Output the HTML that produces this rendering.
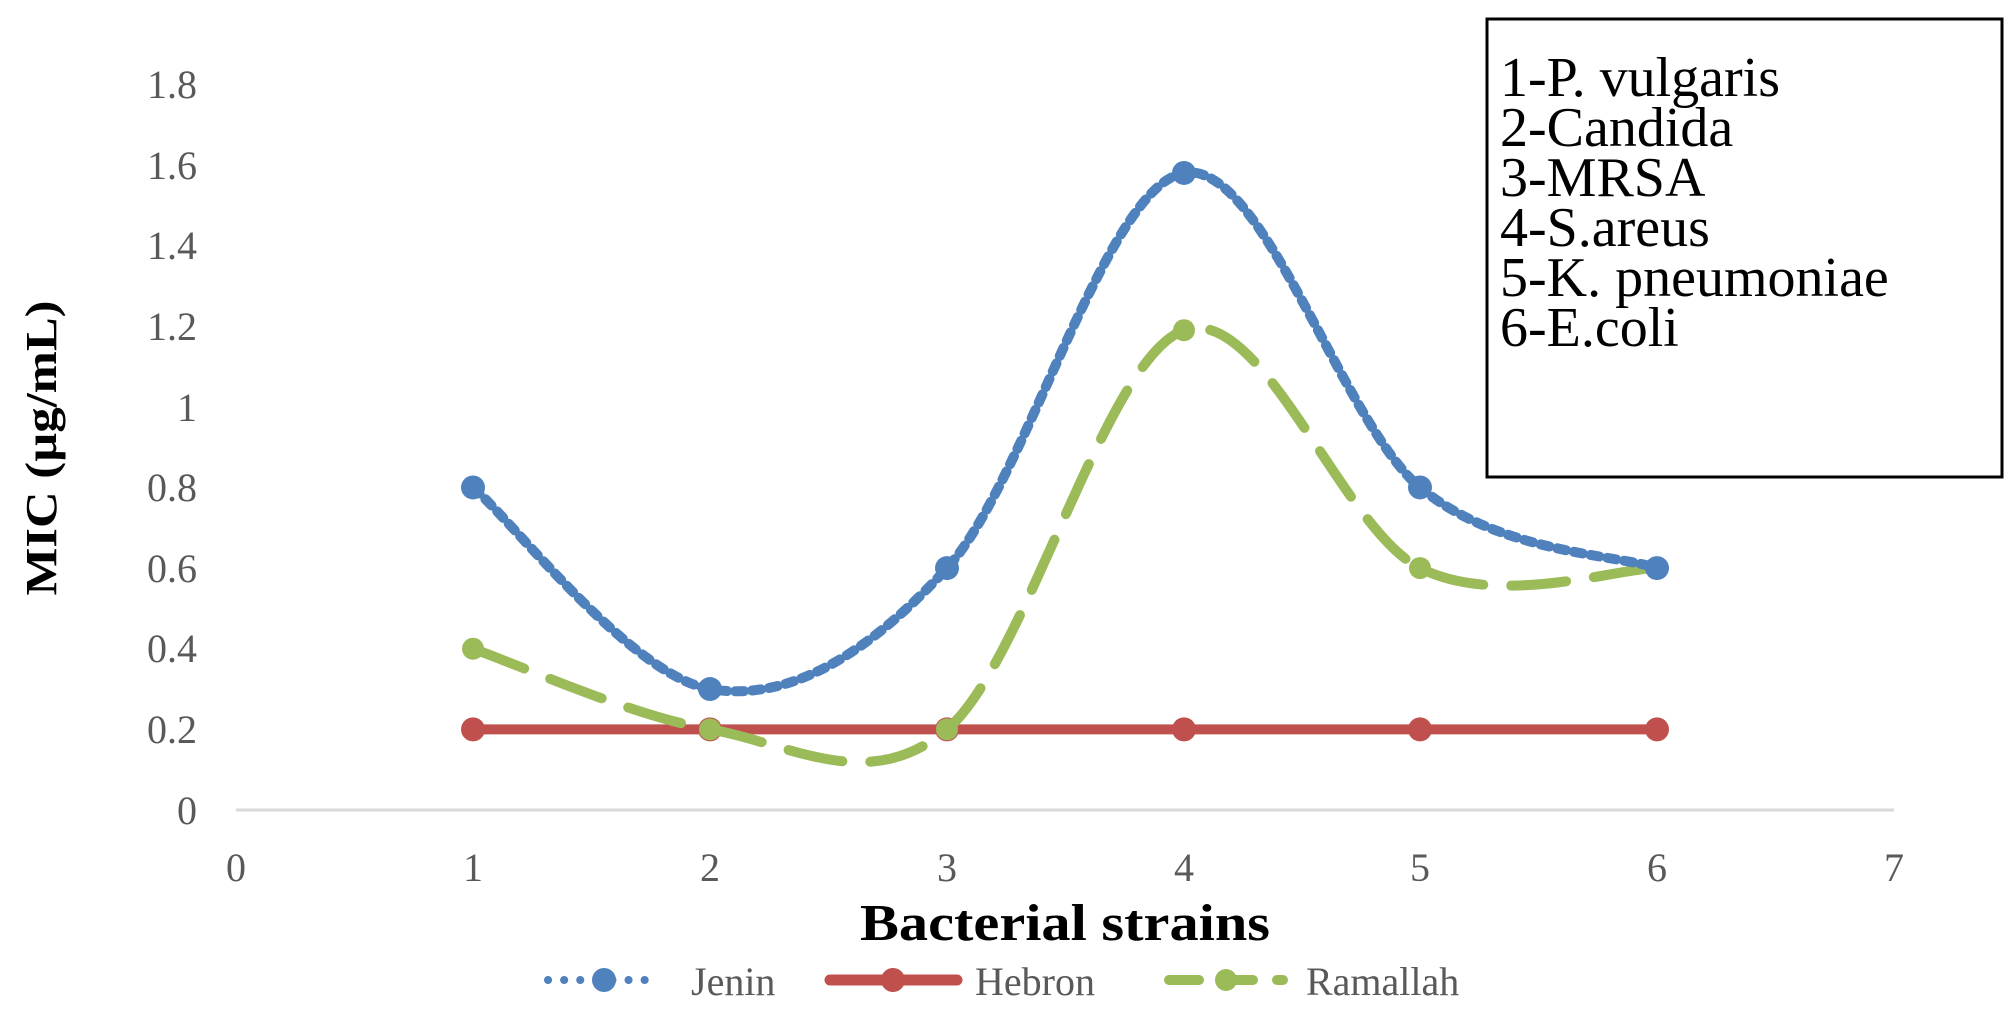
<!DOCTYPE html>
<html><head><meta charset="utf-8"><style>
html,body{margin:0;padding:0;background:#fff;}
svg{display:block;}
.t{font-family:"Liberation Serif",serif;fill:#595959;font-size:40px;}
</style></head><body>
<svg id="s" width="2008" height="1009" viewBox="0 0 2008 1009" xmlns="http://www.w3.org/2000/svg">
<line x1="236" y1="810" x2="1894" y2="810" stroke="#d9d9d9" stroke-width="3"/>
<g class="t" text-anchor="end">
<text x="197" y="824">0</text>
<text x="197" y="743">0.2</text>
<text x="197" y="662">0.4</text>
<text x="197" y="582">0.6</text>
<text x="197" y="501">0.8</text>
<text x="197" y="421">1</text>
<text x="197" y="340">1.2</text>
<text x="197" y="259">1.4</text>
<text x="197" y="179">1.6</text>
<text x="197" y="98">1.8</text>
</g>
<g class="t" text-anchor="middle">
<text x="236" y="881">0</text>
<text x="473" y="881">1</text>
<text x="710" y="881">2</text>
<text x="947" y="881">3</text>
<text x="1184" y="881">4</text>
<text x="1420" y="881">5</text>
<text x="1657" y="881">6</text>
<text x="1894" y="881">7</text>
</g>
<text transform="translate(56,448) rotate(-90)" text-anchor="middle" font-family="Liberation Serif,serif" font-weight="bold" font-size="44" fill="#000" textLength="295" lengthAdjust="spacingAndGlyphs">MIC (µg/mL)</text>
<text x="1065" y="940" text-anchor="middle" font-family="Liberation Serif,serif" font-weight="bold" font-size="52" fill="#000" textLength="410" lengthAdjust="spacingAndGlyphs">Bacterial strains</text>

<g id="series"></g>

<rect x="1487" y="19" width="515" height="458" fill="#fff" stroke="#000" stroke-width="3"/>
<g font-family="Liberation Serif,serif" font-size="56" fill="#000">
<text x="1500" y="96">1-P. vulgaris</text>
<text x="1500" y="146">2-Candida</text>
<text x="1500" y="196">3-MRSA</text>
<text x="1500" y="246">4-S.areus</text>
<text x="1500" y="296">5-K. pneumoniae</text>
<text x="1500" y="346">6-E.coli</text>
</g>

<!-- legend -->
<line x1="548" y1="980" x2="660" y2="980" stroke="#4f81bd" stroke-width="8" stroke-linecap="round" stroke-dasharray="0.1 16"/>
<circle cx="604" cy="980" r="12" fill="#4f81bd"/>
<text x="691" y="995" class="t">Jenin</text>
<line x1="830" y1="980" x2="957" y2="980" stroke="#c0504d" stroke-width="11" stroke-linecap="round"/>
<circle cx="893" cy="980" r="12" fill="#c0504d"/>
<text x="975" y="995" class="t">Hebron</text>
<line x1="1169" y1="980" x2="1283" y2="980" stroke="#9bbb59" stroke-width="10" stroke-linecap="round" stroke-dasharray="30 24"/>
<circle cx="1226" cy="980" r="11" fill="#9bbb59"/>
<text x="1306" y="995" class="t">Ramallah</text>
</svg>
<script>
function path(p){var d="M"+p[0][0]+","+p[0][1];for(var i=0;i<p.length-1;i++){var p0=p[i-1]||p[i],p1=p[i],p2=p[i+1],p3=p[i+2]||p[i+1];var c1x=p1[0]+(p2[0]-p0[0])/6,c1y=p1[1]+(p2[1]-p0[1])/6,c2x=p2[0]-(p3[0]-p1[0])/6,c2y=p2[1]-(p3[1]-p1[1])/6;d+=" C"+c1x+","+c1y+" "+c2x+","+c2y+" "+p2[0]+","+p2[1];}return d;}
var X=[473,710,947,1184,1420,1657];
function Y(v){return 810-v*403.2;}
var J=[.8,.3,.6,1.58,.8,.6],H=[.2,.2,.2,.2,.2,.2],R=[.4,.2,.2,1.19,.6,.6];
function pts(a){return a.map(function(v,i){return [X[i],Y(v)];});}
var ns="http://www.w3.org/2000/svg",g=document.getElementById("series");
function add(tag,at){var e=document.createElementNS(ns,tag);for(var k in at)e.setAttribute(k,at[k]);g.appendChild(e);}
add("path",{d:path(pts(H)),fill:"none",stroke:"#c0504d","stroke-width":10});
pts(H).forEach(function(p){add("circle",{cx:p[0],cy:p[1],r:12,fill:"#c0504d"});});
add("path",{d:path(pts(R)),fill:"none",stroke:"#9bbb59","stroke-width":10,"stroke-linecap":"round","stroke-dasharray":"55 28"});
pts(R).forEach(function(p){add("circle",{cx:p[0],cy:p[1],r:11,fill:"#9bbb59"});});
add("path",{d:path(pts(J)),fill:"none",stroke:"#4f81bd","stroke-width":10,"stroke-linecap":"round","stroke-dasharray":"9 8"});
pts(J).forEach(function(p){add("circle",{cx:p[0],cy:p[1],r:12,fill:"#4f81bd"});});
</script>
</body></html>
